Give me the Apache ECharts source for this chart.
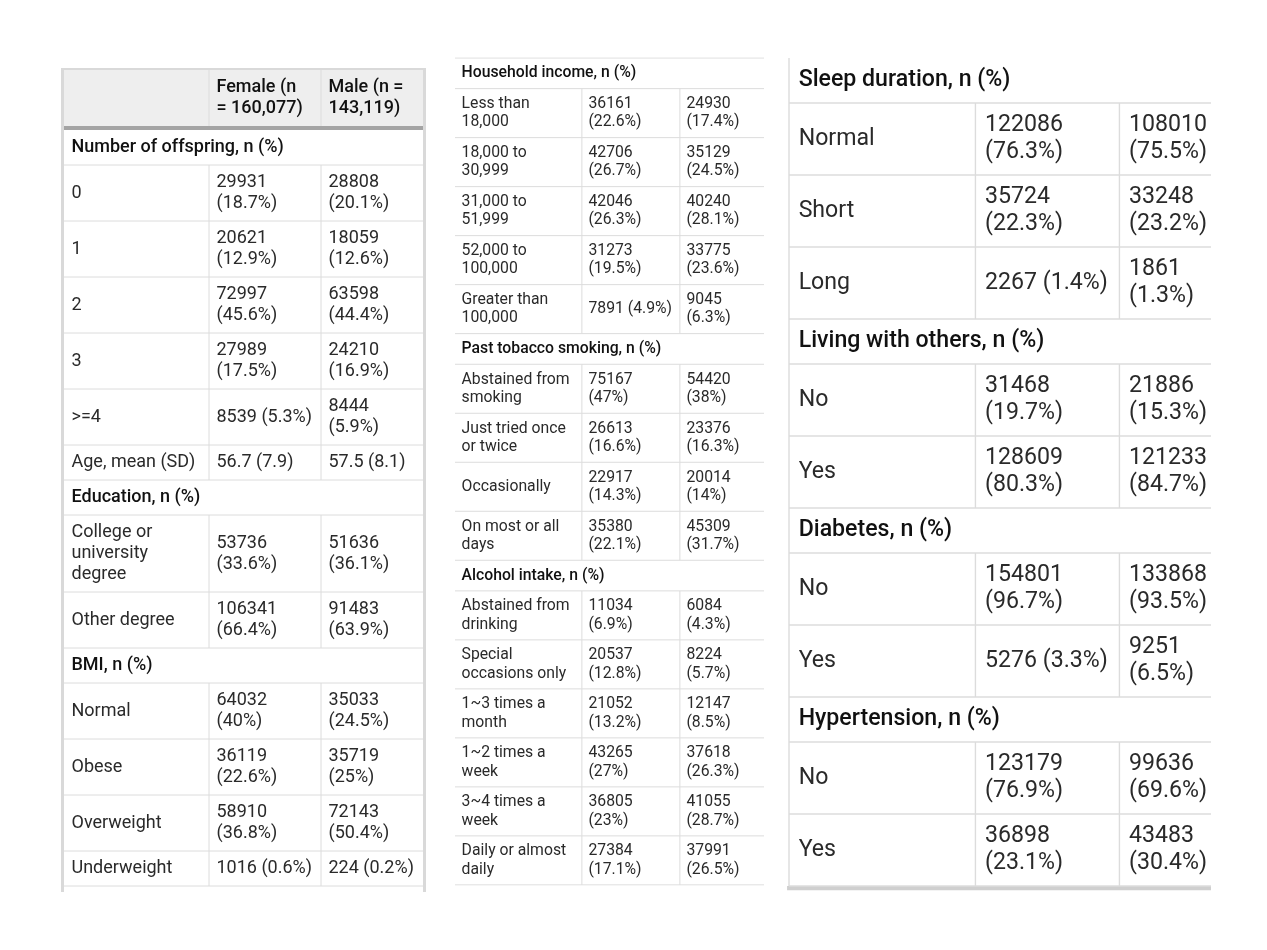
<!DOCTYPE html>
<html><head><meta charset="utf-8">
<script src="https://cdn.jsdelivr.net/npm/echarts@6/dist/echarts.min.js"></script>
<style>html,body{margin:0;padding:0;background:#fff}#chart{width:1267px;height:950px}</style>
</head><body><div id="chart"></div>
<script>
// ---------------- DATA ----------------
const headerCols = ['', 'Female (n\n= 160,077)', 'Male (n =\n143,119)'];

const offspringLabels = ['0', '1', '2', '3', '>=4'];
const offspringFemaleN = [29931, 20621, 72997, 27989, 8539];
const offspringFemalePct = [18.7, 12.9, 45.6, 17.5, 5.3];
const offspringMaleN = [28808, 18059, 63598, 24210, 8444];
const offspringMalePct = [20.1, 12.6, 44.4, 16.9, 5.9];

const ageLabel = 'Age, mean (SD)';
const ageMean = [56.7, 57.5];
const ageSD = [7.9, 8.1];

const educationLabels = ['College or\nuniversity\ndegree', 'Other degree'];
const educationFemaleN = [53736, 106341];
const educationFemalePct = [33.6, 66.4];
const educationMaleN = [51636, 91483];
const educationMalePct = [36.1, 63.9];

const bmiLabels = ['Normal', 'Obese', 'Overweight', 'Underweight'];
const bmiFemaleN = [64032, 36119, 58910, 1016];
const bmiFemalePct = [40, 22.6, 36.8, 0.6];
const bmiMaleN = [35033, 35719, 72143, 224];
const bmiMalePct = [24.5, 25, 50.4, 0.2];

const incomeLabels = ['Less than\n18,000', '18,000 to\n30,999', '31,000 to\n51,999', '52,000 to\n100,000', 'Greater than\n100,000'];
const incomeFemaleN = [36161, 42706, 42046, 31273, 7891];
const incomeFemalePct = [22.6, 26.7, 26.3, 19.5, 4.9];
const incomeMaleN = [24930, 35129, 40240, 33775, 9045];
const incomeMalePct = [17.4, 24.5, 28.1, 23.6, 6.3];

const tobaccoLabels = ['Abstained from\nsmoking', 'Just tried once\nor twice', 'Occasionally', 'On most or all\ndays'];
const tobaccoFemaleN = [75167, 26613, 22917, 35380];
const tobaccoFemalePct = [47, 16.6, 14.3, 22.1];
const tobaccoMaleN = [54420, 23376, 20014, 45309];
const tobaccoMalePct = [38, 16.3, 14, 31.7];

const alcoholLabels = ['Abstained from\ndrinking', 'Special\noccasions only', '1~3 times a\nmonth', '1~2 times a\nweek', '3~4 times a\nweek', 'Daily or almost\ndaily'];
const alcoholFemaleN = [11034, 20537, 21052, 43265, 36805, 27384];
const alcoholFemalePct = [6.9, 12.8, 13.2, 27, 23, 17.1];
const alcoholMaleN = [6084, 8224, 12147, 37618, 41055, 37991];
const alcoholMalePct = [4.3, 5.7, 8.5, 26.3, 28.7, 26.5];

const sleepLabels = ['Normal', 'Short', 'Long'];
const sleepFemaleN = [122086, 35724, 2267];
const sleepFemalePct = [76.3, 22.3, 1.4];
const sleepMaleN = [108010, 33248, 1861];
const sleepMalePct = [75.5, 23.2, 1.3];

const livingLabels = ['No', 'Yes'];
const livingFemaleN = [31468, 128609];
const livingFemalePct = [19.7, 80.3];
const livingMaleN = [21886, 121233];
const livingMalePct = [15.3, 84.7];

const diabetesLabels = ['No', 'Yes'];
const diabetesFemaleN = [154801, 5276];
const diabetesFemalePct = [96.7, 3.3];
const diabetesMaleN = [133868, 9251];
const diabetesMalePct = [93.5, 6.5];

const hypertensionLabels = ['No', 'Yes'];
const hypertensionFemaleN = [123179, 36898];
const hypertensionFemalePct = [76.9, 23.1];
const hypertensionMaleN = [99636, 43483];
const hypertensionMalePct = [69.6, 30.4];

// ---------------- LAYOUT ----------------
const FONT_FAMILY = 'Roboto, "Noto Sans", sans-serif';
const BASE_FONT = 18, MEASURE_FONT = 17.5, BASE_LINE = 21, BASE_PAD_V = 14, BASE_PAD_X = 7.5;
const COL_X = [0, 145, 257, 359];
const COL_AVAIL = [130, 95.5, 87];
const FILLS = ['#eeeeee', '#d9d9d9', '#a4a4a4', '#cfcfcf'];
const STROKES = ['#dcdcdc'];

const mctx = document.createElement('canvas').getContext('2d');
function tw(s) { mctx.font = MEASURE_FONT + 'px Roboto'; return mctx.measureText(s).width; }
function wrap(s, avail) {
  const out = [];
  String(s).split('\n').forEach(par => {
    let line = '';
    par.split(' ').forEach(w => {
      const cand = line ? line + ' ' + w : w;
      if (line && tw(cand) > avail) { out.push(line); line = w; } else line = cand;
    });
    out.push(line);
  });
  return out;
}
const pctText = (n, p) => n + ' (' + p + '%)';

function sectionRows(title, labels, fN, fP, mN, mP) {
  const rows = [{ type: 'section', cells: [title] }];
  labels.forEach((l, i) => rows.push({ type: 'data', cells: [l, pctText(fN[i], fP[i]), pctText(mN[i], mP[i])] }));
  return rows;
}

const panel1Rows = [].concat(
  [{ type: 'header', cells: headerCols }, { type: 'rule' }],
  sectionRows('Number of offspring, n (%)', offspringLabels, offspringFemaleN, offspringFemalePct, offspringMaleN, offspringMalePct),
  [{ type: 'data', cells: [ageLabel, ageMean[0] + ' (' + ageSD[0] + ')', ageMean[1] + ' (' + ageSD[1] + ')'] }],
  sectionRows('Education, n (%)', educationLabels, educationFemaleN, educationFemalePct, educationMaleN, educationMalePct),
  sectionRows('BMI, n (%)', bmiLabels, bmiFemaleN, bmiFemalePct, bmiMaleN, bmiMalePct)
);
const panel2Rows = [].concat(
  sectionRows('Household income, n (%)', incomeLabels, incomeFemaleN, incomeFemalePct, incomeMaleN, incomeMalePct),
  sectionRows('Past tobacco smoking, n (%)', tobaccoLabels, tobaccoFemaleN, tobaccoFemalePct, tobaccoMaleN, tobaccoMalePct),
  sectionRows('Alcohol intake, n (%)', alcoholLabels, alcoholFemaleN, alcoholFemalePct, alcoholMaleN, alcoholMalePct)
);
const panel3Rows = [].concat(
  sectionRows('Sleep duration, n (%)', sleepLabels, sleepFemaleN, sleepFemalePct, sleepMaleN, sleepMalePct),
  sectionRows('Living with others, n (%)', livingLabels, livingFemaleN, livingFemalePct, livingMaleN, livingMalePct),
  sectionRows('Diabetes, n (%)', diabetesLabels, diabetesFemaleN, diabetesFemalePct, diabetesMaleN, diabetesMalePct),
  sectionRows('Hypertension, n (%)', hypertensionLabels, hypertensionFemaleN, hypertensionFemalePct, hypertensionMaleN, hypertensionMalePct)
);

const panels = [
  { rows: panel1Rows, ox: 64, oy: 70, s: 1, xMin: -3, xMax: 362, tail: 6, outerBorder: true, topLine: false, leftLine: false, bottomRule: false, lw: 1 },
  { rows: panel2Rows, ox: 455, oy: 58, s: 0.875, xMin: 0, xMax: 353, tail: 1, outerBorder: false, topLine: true, leftLine: false, bottomRule: false, lw: 1 },
  { rows: panel3Rows, ox: 789, oy: 58, s: 9 / 7, xMin: -1.5, xMax: 327.4, tail: 3.5, outerBorder: false, topLine: false, leftLine: true, bottomRule: true, lw: 1.4 }
];

function buildPanel(p) {
  const fills = [], lines = [], texts = [], textInfo = [];
  let y = 0;
  p.rows.forEach(r => {
    if (r.type === 'rule') { fills.push([0, y, 359, y + 4, 0, 2]); y += 4; return; }
    if (r.type === 'section') {
      const ls = wrap(r.cells[0], 340);
      const h = ls.length * BASE_LINE + BASE_PAD_V;
      textInfo.push({ text: ls.join('\n'), bold: true });
      texts.push([0, y, 359, y + h, 2, textInfo.length - 1]);
      y += h;
      lines.push([0, y, 359, y, 1, 0]);
      return;
    }
    const wrapped = r.cells.map((c, ci) => wrap(c, COL_AVAIL[ci]));
    const n = Math.max.apply(null, wrapped.map(w => w.length));
    const h = n * BASE_LINE + BASE_PAD_V;
    const isHead = r.type === 'header';
    if (isHead) fills.push([0, y, 359, y + h, 0, 0]);
    wrapped.forEach((w, ci) => {
      textInfo.push({ text: w.join('\n'), bold: isHead });
      texts.push([COL_X[ci], y, COL_X[ci + 1], y + h, 2, textInfo.length - 1]);
    });
    lines.push([COL_X[1], y, COL_X[1], y + h, 1, 0]);
    lines.push([COL_X[2], y, COL_X[2], y + h, 1, 0]);
    y += h;
    if (!isHead) lines.push([0, y, 359, y, 1, 0]);
  });
  const yMax = y + p.tail;
  const yMin = p.outerBorder ? -2 : -1;
  if (p.topLine) lines.push([0, 0, 359, 0, 1, 0]);
  if (p.leftLine) lines.push([0, 0, 0, y, 1, 0]);
  if (p.outerBorder) {
    fills.push([-3, -2, 0, yMax, 0, 1]);
    fills.push([359, -2, 362, yMax, 0, 1]);
    fills.push([-3, -2, 362, 0, 0, 1]);
  }
  if (p.bottomRule) fills.push([-1.5, y, 359, y + 3.5, 0, 3]);
  p.textInfo = textInfo;
  p.items = fills.concat(lines, texts);
  p.yMin = yMin; p.yMax = yMax;
}
panels.forEach(buildPanel);

function makeRender(p) {
  return function (params, api) {
    const x0 = api.value(0), y0 = api.value(1), x1 = api.value(2), y1 = api.value(3);
    const kind = api.value(4), ref = api.value(5);
    const a = api.coord([x0, y0]), b = api.coord([x1, y1]);
    if (kind === 0) {
      return { type: 'rect', shape: { x: a[0], y: a[1], width: b[0] - a[0], height: b[1] - a[1] }, style: { fill: FILLS[ref] } };
    }
    if (kind === 1) {
      return { type: 'line', shape: { x1: a[0], y1: a[1], x2: b[0], y2: b[1] }, style: { stroke: STROKES[ref], lineWidth: p.lw } };
    }
    const t = p.textInfo[ref];
    return {
      type: 'text', x: a[0] + BASE_PAD_X * p.s, y: (a[1] + b[1]) / 2,
      style: {
        text: t.text, fill: t.bold ? '#111111' : '#2a2a2a',
        fontSize: BASE_FONT * p.s, fontFamily: FONT_FAMILY, fontWeight: t.bold ? 500 : 400,
        lineHeight: BASE_LINE * p.s, align: 'left', verticalAlign: 'middle'
      }
    };
  };
}

const option = {
  backgroundColor: '#ffffff',
  animation: false,
  grid: panels.map(p => ({
    left: p.ox + p.xMin * p.s, top: p.oy + p.yMin * p.s,
    width: (p.xMax - p.xMin) * p.s, height: (p.yMax - p.yMin) * p.s,
    containLabel: false
  })),
  xAxis: panels.map((p, i) => ({ type: 'value', gridIndex: i, min: p.xMin, max: p.xMax, show: false })),
  yAxis: panels.map((p, i) => ({ type: 'value', gridIndex: i, min: p.yMin, max: p.yMax, inverse: true, show: false })),
  series: panels.map((p, i) => ({
    type: 'custom', xAxisIndex: i, yAxisIndex: i, clip: true, silent: true,
    encode: { x: [0, 2], y: [1, 3] },
    renderItem: makeRender(p), data: p.items
  }))
};
const chart = echarts.init(document.getElementById('chart'), null, { renderer: 'canvas' });
chart.setOption(option);
</script></body></html>
